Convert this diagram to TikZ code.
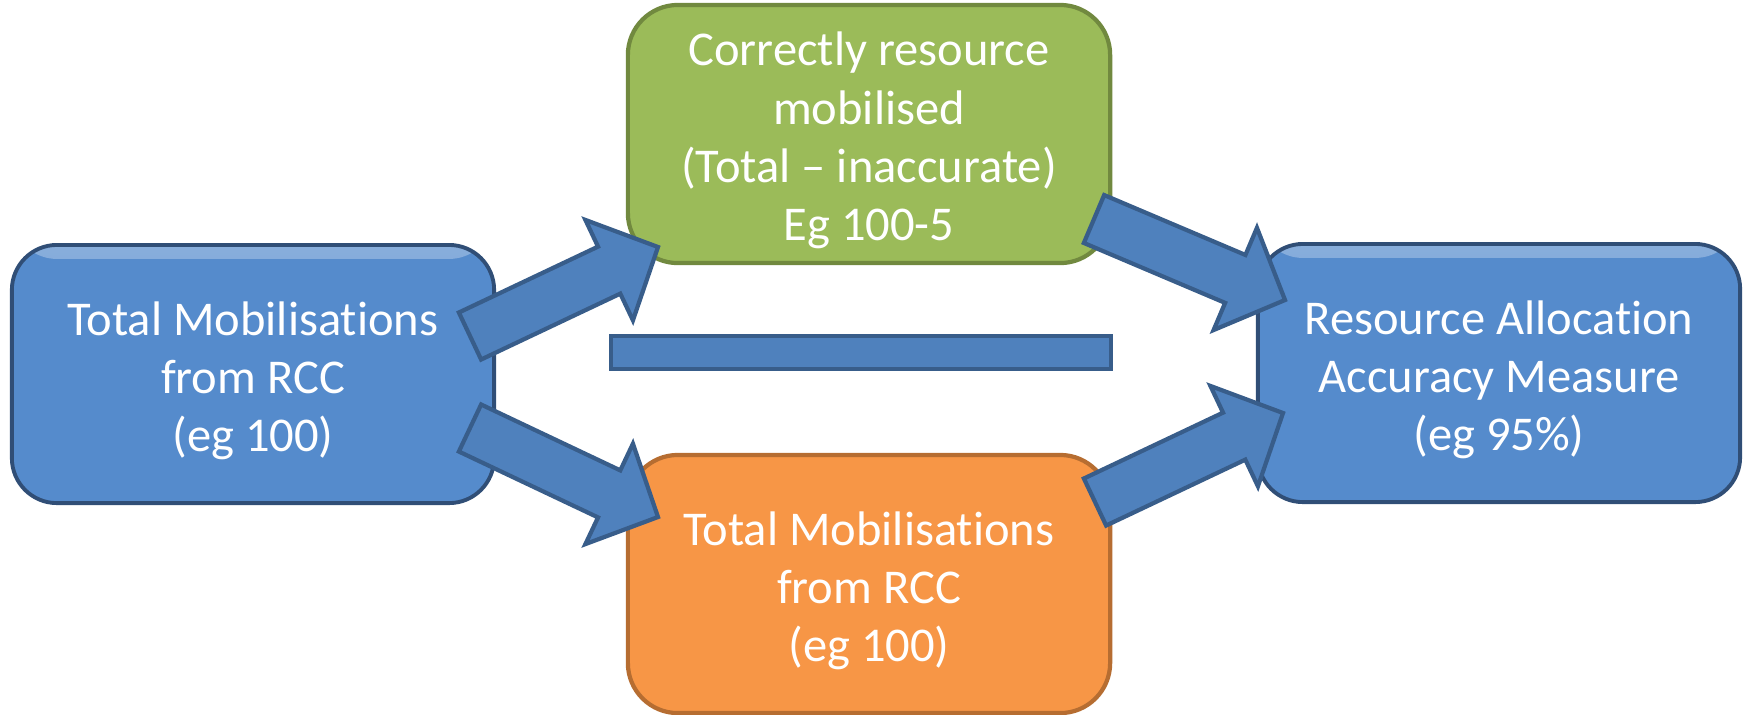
\documentclass[tikz,border=0pt]{standalone}
\usepackage{fontspec}
\setmainfont{Carlito}[Ligatures=NoCommon]
\usetikzlibrary{calc}

\definecolor{boxblue}{RGB}{85,139,204}
\definecolor{boxblueline}{RGB}{48,78,118}
\definecolor{arrowblue}{RGB}{79,129,189}
\definecolor{arrowline}{RGB}{56,93,138}
\definecolor{boxgreen}{RGB}{155,187,89}
\definecolor{boxgreenline}{RGB}{113,137,63}
\definecolor{boxorange}{RGB}{247,150,70}
\definecolor{boxorangeline}{RGB}{182,109,49}

% taller first line, pushes the text a bit down
\newcommand{\topgap}{\rule{0pt}{13.4pt}}

% block arrow from tail #1 to tip #2
\newcommand{\blockarrow}[2]{%
    \coordinate (hb) at ($(#2)!0.54cm!(#1)$);
    \draw [fatarrow] ($(#1)!0.26cm!90:(#2)$) -- ($(hb)!0.26cm!-90:(#1)$)
        -- ($(hb)!0.555cm!-90:(#1)$) -- (#2) -- ($(hb)!0.555cm!90:(#1)$)
        -- ($(hb)!0.26cm!90:(#1)$) -- ($(#1)!0.26cm!-90:(#2)$) -- cycle;
}

\begin{document}
\begin{tikzpicture}[x=0.01cm, y=-0.01cm,
    box/.style={rectangle, minimum width=4.82cm, minimum height=2.58cm, inner sep=0pt,
        align=center, text=white, font=\fontsize{13.8}{16.6}\selectfont},
    bluebox/.style={box, rounded corners=0.45cm, fill=boxblue, draw=boxblueline, line width=1.1pt,
        path picture={\shade [top color=boxblue!70!white, bottom color=boxblue]
            (path picture bounding box.north west) rectangle ([yshift=-0.14cm]path picture bounding box.north east);}},
    greenbox/.style={box, rounded corners=0.5cm, fill=boxgreen, draw=boxgreenline, line width=1.2pt},
    orangebox/.style={box, rounded corners=0.5cm, fill=boxorange, draw=boxorangeline, line width=1.2pt},
    fatarrow/.style={fill=arrowblue, draw=arrowline, line width=1.2pt, line join=miter}]
    \useasboundingbox (0, 0) rectangle (1746, 714);

    % Boxes
    \node [bluebox] (total) at (253, 374) {\topgap Total Mobilisations\\from RCC\\(eg 100)};
    \node [greenbox] (correct) at (869, 134) {\topgap Correctly resource\\mobilised\\(Total – inaccurate)\\Eg 100-5};
    \node [orangebox] (mobil) at (869, 584) {\topgap Total Mobilisations\\from RCC\\(eg 100)};
    \node [bluebox] (accuracy) at (1499, 373) {\topgap Resource Allocation\\Accuracy Measure\\(eg 95\%)};

    % Minus bar
    \draw [fatarrow] (611, 336) rectangle (1111, 369);

    % Arrow ends
    \coordinate (ultail) at (470, 336);
    \coordinate (ultip) at (658, 247);
    \coordinate (lltail) at (470, 428);
    \coordinate (lltip) at (658, 517);
    \coordinate (urtail) at (1094, 219);
    \coordinate (urtip) at (1285, 300);
    \coordinate (lrtail) at (1095, 502);
    \coordinate (lrtip) at (1283, 413);

    % Arrows
    \blockarrow{ultail}{ultip}
    \blockarrow{lltail}{lltip}
    \blockarrow{urtail}{urtip}
    \blockarrow{lrtail}{lrtip}
\end{tikzpicture}
\end{document}
